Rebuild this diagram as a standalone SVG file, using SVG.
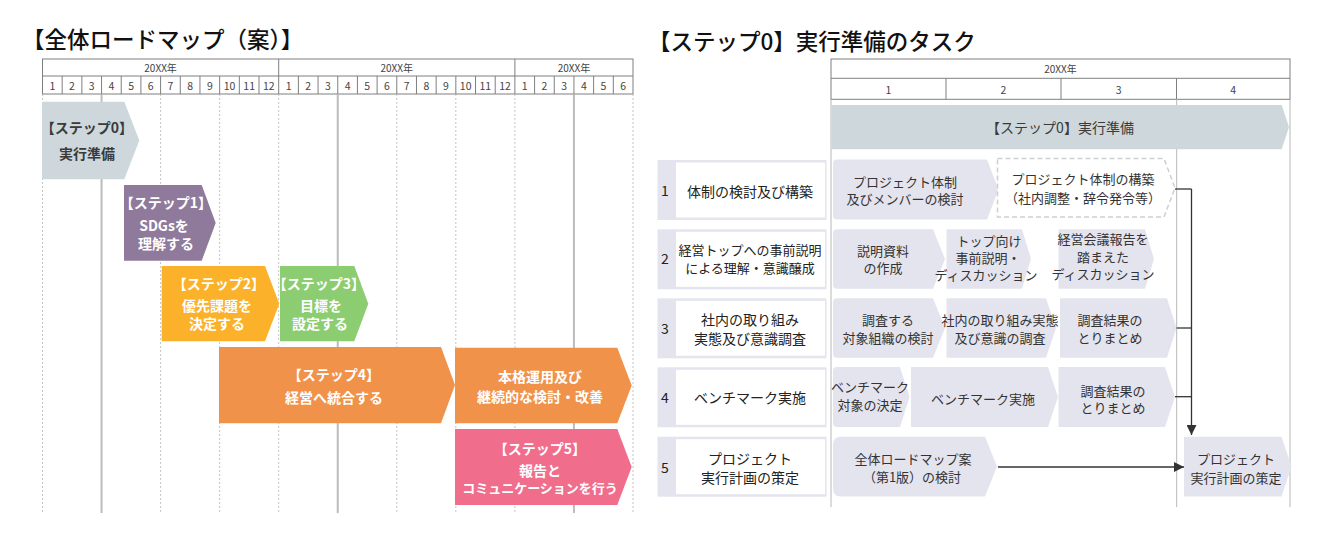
<svg xmlns="http://www.w3.org/2000/svg" width="1324" height="540" viewBox="0 0 1324 540">
<defs>
<style>
text{font-family:"Noto Sans CJK JP","Noto Sans",sans-serif;dominant-baseline:central;text-anchor:middle}
.title{font-size:22.5px;fill:#111;text-anchor:start;font-weight:500}
.hdr{font-size:10px;fill:#444}
.mon{font-size:10.5px;fill:#444}
.grid{stroke:#7f7f7f;stroke-width:1;fill:none}
.dash{stroke:#b5b5b5;stroke-width:0.8;stroke-dasharray:2 2}
.solid{stroke:#bcbcbc;stroke-width:2}
.thin{stroke:#b8b8b8;stroke-width:1}
.wt{fill:#fff;font-size:14px;font-weight:bold}
.dk{fill:#3a3a3a;font-size:14px;font-weight:bold}
.task{fill:#e4e4ee}
.tt{fill:#333;font-size:13px}
.lbl{fill:#222;font-size:14px}
.conn{stroke:#333;stroke-width:1.3;fill:none}
</style>
<marker id="arr" viewBox="0 0 10 10" refX="10" refY="5" markerWidth="10" markerHeight="10" markerUnits="userSpaceOnUse" orient="auto">
<path d="M0,0 L10,5 L0,10 z" fill="#333"/>
</marker>
</defs>
<rect width="1324" height="540" fill="#fff"/>

<!-- LEFT: overall roadmap -->
<text class="title" x="22" y="38">【全体ロードマップ（案）】</text>
<g id="left-header">
<rect class="grid" x="42.5" y="59" width="590.5" height="35"/>
<path class="grid" d="M42.5,76H633M278.7,59V76M514.9,59V76"/>
<path class="grid" d="M62.18,76V94M81.87,76V94M101.55,76V94M121.23,76V94M140.92,76V94M160.6,76V94M180.28,76V94M199.96,76V94M219.65,76V94M239.33,76V94M259.01,76V94M278.7,76V94M298.38,76V94M318.06,76V94M337.75,76V94M357.43,76V94M377.11,76V94M396.79,76V94M416.48,76V94M436.16,76V94M455.84,76V94M475.53,76V94M495.21,76V94M514.89,76V94M534.58,76V94M554.26,76V94M573.94,76V94M593.62,76V94M613.31,76V94"/>
<text class="hdr" x="160.6" y="67.5">20XX年</text>
<text class="hdr" x="396.8" y="67.5">20XX年</text>
<text class="hdr" x="574" y="67.5">20XX年</text>
<g class="mon">
<text class="mon" x="52.34" y="85">1</text><text class="mon" x="72.02" y="85">2</text><text class="mon" x="91.71" y="85">3</text><text class="mon" x="111.39" y="85">4</text><text class="mon" x="131.07" y="85">5</text><text class="mon" x="150.76" y="85">6</text><text class="mon" x="170.44" y="85">7</text><text class="mon" x="190.12" y="85">8</text><text class="mon" x="209.81" y="85">9</text><text class="mon" x="229.49" y="85">10</text><text class="mon" x="249.18" y="85">11</text><text class="mon" x="268.86" y="85">12</text>
<text class="mon" x="288.54" y="85">1</text><text class="mon" x="308.23" y="85">2</text><text class="mon" x="327.91" y="85">3</text><text class="mon" x="347.59" y="85">4</text><text class="mon" x="367.28" y="85">5</text><text class="mon" x="386.96" y="85">6</text><text class="mon" x="406.64" y="85">7</text><text class="mon" x="426.33" y="85">8</text><text class="mon" x="446.01" y="85">9</text><text class="mon" x="465.69" y="85">10</text><text class="mon" x="485.38" y="85">11</text><text class="mon" x="505.06" y="85">12</text>
<text class="mon" x="524.75" y="85">1</text><text class="mon" x="544.43" y="85">2</text><text class="mon" x="564.11" y="85">3</text><text class="mon" x="583.8" y="85">4</text><text class="mon" x="603.48" y="85">5</text><text class="mon" x="623.16" y="85">6</text>
</g>
</g>
<g id="left-gridlines">
<path class="dash" d="M42.5,94V513M160.6,94V513M219.65,94V513M278.7,94V513M396.79,94V513M455.84,94V513M514.89,94V513M633,94V513"/>
<path class="solid" d="M101.55,94V513M337.75,94V513M573.94,94V513"/>
</g>
<g id="step0">
<polygon points="42,101.7 124.3,101.7 139.3,140.5 124.3,179.3 42,179.3" fill="#cdd7dc"/>
<text class="dk" x="87" y="127">【ステップ0】</text>
<text class="dk" x="87" y="153">実行準備</text>
</g>
<g id="step1">
<polygon points="124,185 201.7,185 215.7,223 201.7,260.7 124,260.7" fill="#8f7a9b"/>
<text class="wt" x="166" y="201.7">【ステップ1】</text>
<text class="wt" x="164" y="225">SDGsを</text>
<text class="wt" x="166" y="242.7">理解する</text>
</g>
<g id="step2">
<polygon points="161.7,266 265,266 279.3,303.7 265,341.3 161.7,341.3" fill="#fbb22a"/>
<text class="wt" x="219" y="282.7">【ステップ2】</text>
<text class="wt" x="217" y="305">優先課題を</text>
<text class="wt" x="217" y="323">決定する</text>
</g>
<g id="step3">
<polygon points="280,266 354.3,266 368.3,303.7 354.3,341.3 280,341.3" fill="#8dcd72"/>
<text class="wt" x="319" y="282.7">【ステップ3】</text>
<text class="wt" x="321" y="305">目標を</text>
<text class="wt" x="320" y="323">設定する</text>
</g>
<g id="step4">
<polygon points="219,347 441,347 455,385 441,423.3 219,423.3" fill="#f0924a"/>
<text class="wt" x="334" y="374">【ステップ4】</text>
<text class="wt" x="334" y="396.7">経営へ統合する</text>
</g>
<g id="step4-operation">
<polygon points="455,347.7 617.3,347.7 631.7,385.5 617.3,423.3 455,423.3" fill="#f0924a"/>
<text class="wt" x="540" y="376">本格運用及び</text>
<text class="wt" x="540" y="396">継続的な検討・改善</text>
</g>
<g id="step5">
<polygon points="455,429 617.3,429 631.7,467 617.3,505 455,505" fill="#f06e8c"/>
<text class="wt" x="540" y="448.3">【ステップ5】</text>
<text class="wt" x="540" y="470">報告と</text>
<text class="wt" x="540" y="487.3" style="font-size:13px">コミュニケーションを行う</text>
</g>

<!-- RIGHT: step 0 tasks -->
<text class="title" x="648" y="40">【ステップ0】実行準備のタスク</text>
<g id="right-header">
<rect class="grid" x="831" y="59" width="459" height="40.3"/>
<path class="grid" d="M831,78.3H1290M946,78.3V99.3M1061,78.3V99.3M1176.5,78.3V99.3"/>
<text class="hdr" x="1060.5" y="68.5">20XX年</text>
<text class="mon" x="888.5" y="89">1</text>
<text class="mon" x="1003.5" y="89">2</text>
<text class="mon" x="1118.7" y="89">3</text>
<text class="mon" x="1233.2" y="89">4</text>
</g>
<g id="right-gridlines">
<path class="thin" d="M831,99.3V507M1176.7,99.3V507M1290,99.3V507"/>
</g>
<g id="banner-step0">
<polygon points="831.5,105 1281.7,105 1289,127 1281.7,149.3 831.5,149.3" fill="#cdd7dc"/>
<text x="1060" y="127" style="font-size:14px;fill:#3a3a3a">【ステップ0】実行準備</text>
</g>

<g id="row1-label">
<rect x="657.5" y="160" width="169" height="60" fill="#e4e4ee"/>
<rect x="676" y="162.5" width="149" height="55" fill="#fff"/>
<text class="lbl" x="665" y="190">1</text>
<text class="lbl" x="750" y="191">体制の検討及び構築</text>
</g>
<g id="row2-label">
<rect x="657.5" y="229.3" width="169" height="60" fill="#e4e4ee"/>
<rect x="676" y="231.8" width="149" height="55" fill="#fff"/>
<text class="lbl" x="665" y="258">2</text>
<text class="lbl" x="750" y="249" style="font-size:13px">経営トップへの事前説明</text>
<text class="lbl" x="750" y="267.5" style="font-size:13px">による理解・意識醸成</text>
</g>
<g id="row3-label">
<rect x="657.5" y="298.3" width="169" height="60" fill="#e4e4ee"/>
<rect x="676" y="300.8" width="149" height="55" fill="#fff"/>
<text class="lbl" x="665" y="328">3</text>
<text class="lbl" x="750" y="318.5">社内の取り組み</text>
<text class="lbl" x="750" y="337.5">実態及び意識調査</text>
</g>
<g id="row4-label">
<rect x="657.5" y="367.3" width="169" height="60" fill="#e4e4ee"/>
<rect x="676" y="369.8" width="149" height="55" fill="#fff"/>
<text class="lbl" x="665" y="397">4</text>
<text class="lbl" x="750" y="397">ベンチマーク実施</text>
</g>
<g id="row5-label">
<rect x="657.5" y="436.7" width="169" height="60" fill="#e4e4ee"/>
<rect x="676" y="439.2" width="149" height="55" fill="#fff"/>
<text class="lbl" x="665" y="466.5">5</text>
<text class="lbl" x="750" y="457.5">プロジェクト</text>
<text class="lbl" x="750" y="477">実行計画の策定</text>
</g>

<g id="task-1a">
<path class="task" d="M837,159.5H987L998.5,189.5L987,219.5H837Q833,219.5 833,215.5V163.5Q833,159.5 837,159.5Z"/>
<text class="tt" x="905" y="181.5">プロジェクト体制</text>
<text class="tt" x="905" y="198.5">及びメンバーの検討</text>
</g>
<g id="task-1b">
<polygon points="997.5,158.5 1164,158.5 1175,188 1164,217 997.5,217" fill="#fff" stroke="#cfcfcf" stroke-width="1.5" stroke-dasharray="5 3"/>
<text class="tt" x="1083" y="178">プロジェクト体制の構築</text>
<text class="tt" x="1083" y="197">（社内調整・辞令発令等）</text>
</g>
<g id="task-2a">
<path class="task" d="M837,229.3H933L945,259L933,288.7H837Q833,288.7 833,284.7V233.3Q833,229.3 837,229.3Z"/>
<text class="tt" x="883" y="250">説明資料</text>
<text class="tt" x="883" y="267">の作成</text>
</g>
<g id="task-2b">
<polygon class="task" points="946.5,229.3 1022,229.3 1031,259 1022,288.7 946.5,288.7"/>
<text class="tt" x="989" y="240">トップ向け</text>
<text class="tt" x="988" y="257">事前説明・</text>
<text class="tt" x="986" y="274">ディスカッション</text>
</g>
<g id="task-2c">
<polygon class="task" points="1058.5,229.3 1145,229.3 1154,259 1145,288.7 1058.5,288.7"/>
<text class="tt" x="1103" y="238.5">経営会議報告を</text>
<text class="tt" x="1103" y="256">踏まえた</text>
<text class="tt" x="1103" y="273.5">ディスカッション</text>
</g>
<g id="task-3a">
<path class="task" d="M837,298.3H933L945,328L933,357.7H837Q833,357.7 833,353.7V302.3Q833,298.3 837,298.3Z"/>
<text class="tt" x="888" y="319">調査する</text>
<text class="tt" x="888" y="337">対象組織の検討</text>
</g>
<g id="task-3b">
<polygon class="task" points="946.5,298.3 1046,298.3 1056,328 1046,357.7 946.5,357.7"/>
<text class="tt" x="1000" y="319">社内の取り組み実態</text>
<text class="tt" x="1000" y="337">及び意識の調査</text>
</g>
<g id="task-3c">
<polygon class="task" points="1060,298.3 1167,298.3 1176.5,328 1167,357.7 1060,357.7"/>
<text class="tt" x="1110" y="319">調査結果の</text>
<text class="tt" x="1110" y="337">とりまとめ</text>
</g>
<g id="task-4a">
<path class="task" d="M837,367H900L909.5,397L900,427H837Q833,427 833,423V371Q833,367 837,367Z"/>
<text class="tt" x="870" y="386">ベンチマーク</text>
<text class="tt" x="870" y="404">対象の決定</text>
</g>
<g id="task-4b">
<polygon class="task" points="911,367 1048,367 1058,397 1048,427 911,427"/>
<text class="tt" x="983" y="398">ベンチマーク実施</text>
</g>
<g id="task-4c">
<polygon class="task" points="1058.5,367 1165,367 1175,397 1165,427 1058.5,427"/>
<text class="tt" x="1113" y="390">調査結果の</text>
<text class="tt" x="1113" y="407">とりまとめ</text>
</g>
<g id="task-5a">
<path class="task" d="M841,436.7H985L997,466.6L985,496.5H841Q833,496.5 833,488.5V444.7Q833,436.7 841,436.7Z"/>
<text class="tt" x="913" y="458">全体ロードマップ案</text>
<text class="tt" x="912" y="476.5">（第1版）の検討</text>
</g>
<g id="task-5b">
<polygon class="task" points="1184,436.7 1281.5,436.7 1291.5,466.6 1281.5,496.5 1184,496.5"/>
<text class="tt" x="1236" y="458.5">プロジェクト</text>
<text class="tt" x="1236" y="477">実行計画の策定</text>
</g>

<g id="connectors">
<path class="conn" d="M1175,189H1191.5"/>
<path class="conn" d="M1176.5,328H1191.5"/>
<path class="conn" d="M1175,396.7H1191.5"/>
<path class="conn" d="M1191.5,189V435" stroke-width="1.8" marker-end="url(#arr)"/>
<path class="conn" d="M998,467H1184" marker-end="url(#arr)"/>
</g>
</svg>
